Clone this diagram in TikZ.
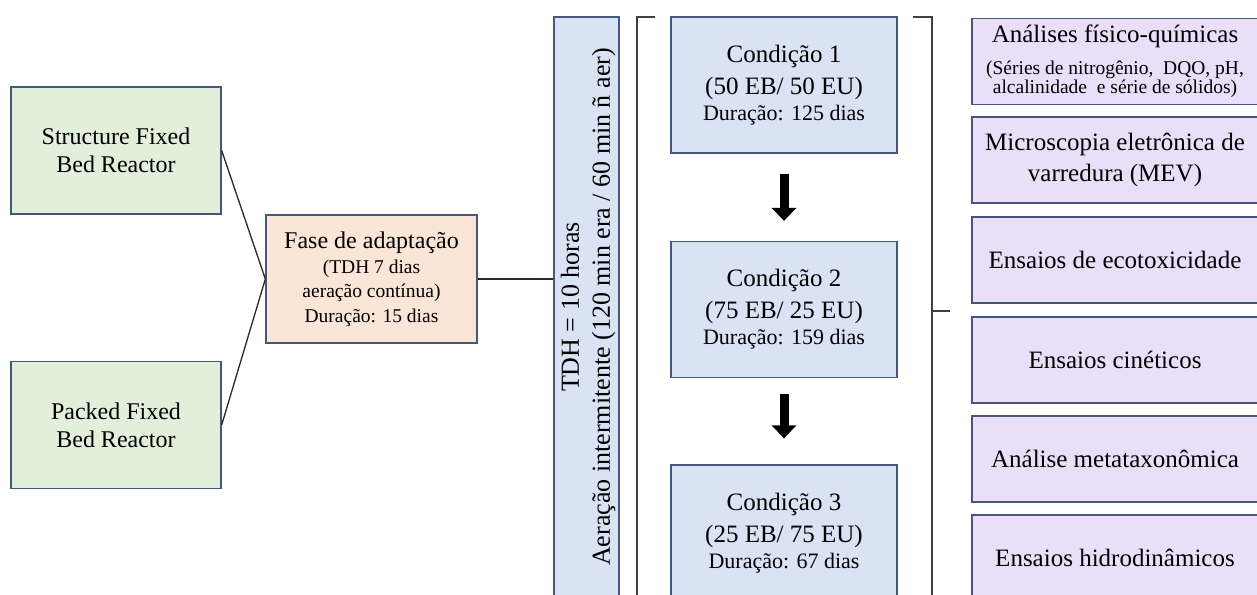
\documentclass[tikz,border=0pt]{standalone}
\usepackage{fontspec}
\setmainfont{Liberation Serif}
\usetikzlibrary{arrows.meta}
\definecolor{bordc}{RGB}{70,86,124}
\definecolor{greenf}{RGB}{226,239,218}
\definecolor{peachf}{RGB}{251,229,214}
\definecolor{bluef}{RGB}{218,227,243}
\definecolor{purplef}{RGB}{234,222,249}
\definecolor{linec}{RGB}{40,40,40}
\definecolor{brackc}{RGB}{64,64,64}
\newcommand{\fsz}[2]{\fontsize{#1}{#2}\selectfont}
\tikzset{
  box/.style={draw=bordc, line width=1.3pt, rectangle, inner sep=0pt, align=center, text=black},
  greenbox/.style={box, fill=greenf, minimum width=210pt, minimum height=127pt, font=\fsz{24}{28}},
  peachbox/.style={box, fill=peachf, minimum width=211pt, minimum height=128pt, font=\fsz{19.5}{24.5}},
  tdhbox/.style={box, fill=bluef, minimum width=65pt, minimum height=640pt},
  condbox/.style={box, fill=bluef, minimum width=226pt, minimum height=136pt, font=\fsz{25}{32}},
  purplebox/.style={box, fill=purplef, minimum width=286pt, minimum height=86pt, font=\fsz{25}{31}},
  conn/.style={draw=linec, line width=1.3pt},
  brack/.style={draw=brackc, line width=1.8pt},
  bigarrow/.style={draw=black, line width=9pt, -{Triangle[width=24pt,length=13pt]}}
}
\begin{document}
\begin{tikzpicture}[x=1pt,y=-1pt]
\path[use as bounding box] (0,0) rectangle (1257,594);
\clip (0,0) rectangle (1257,594);
% left column
\node[greenbox] (s) at (116,150.5) {Structure Fixed\\Bed Reactor};
\node[greenbox] (p) at (116,425) {Packed Fixed\\Bed Reactor};
\node[peachbox] (f) at (371.5,279) {{\fsz{24}{25}Fase de adaptação}\\(TDH 7 dias\\aeração contínua)\\Duração: 15 dias};
% TDH box
\node[tdhbox] (t) at (586.5,337) {};
\node[rotate=90, align=center, font=\fsz{26}{31}] (tt) at (588,307) {TDH = 10 horas\\Aeração intermitente (120 min era / 60 min ñ aer)};
% conditions
\node[condbox] (c1) at (784,85) {Condição 1\\(50 EB/ 50 EU)\\[-6pt]{\fsz{22}{26}Duração: 125 dias}};
\node[condbox] (c2) at (784,309.5) {Condição 2\\(75 EB/ 25 EU)\\[-6pt]{\fsz{22}{26}Duração: 159 dias}};
\node[condbox] (c3) at (784,533) {Condição 3\\(25 EB/ 75 EU)\\[-6pt]{\fsz{22}{26}Duração: 67 dias}};
\draw[bigarrow] ([yshift=-20pt]c1.south) -- ([yshift=20pt]c2.north);
\draw[bigarrow] ([yshift=-16pt]c2.south) -- ([yshift=26pt]c3.north);
% analyses
\node[purplebox] (a1) at (1115,61.5) {Análises físico-químicas\\[1pt]{\fsz{19.5}{19.5}(Séries de nitrogênio, \ DQO, pH,}\\[-12pt]{\fsz{19.5}{19.5}alcalinidade \ e série de sólidos)}};
\node[purplebox] (a2) at (1115,160) {Microscopia eletrônica de\\varredura (MEV)};
\node[purplebox] (a3) at (1115,260) {Ensaios de ecotoxicidade};
\node[purplebox] (a4) at (1115,360) {Ensaios cinéticos};
\node[purplebox] (a5) at (1115,459) {Análise metataxonômica};
\node[purplebox] (a6) at (1115,558) {Ensaios hidrodinâmicos};
% connectors
\draw[conn] (s.east) -- (f.west);
\draw[conn] (p.east) -- (f.west);
\draw[conn] (f.east) -- (f.east -| t.west);
% brackets
\coordinate (bl1) at (655,17);
\coordinate (bl2) at (637,17);
\coordinate (bl3) at (637,620);
\coordinate (br1) at (913,17);
\coordinate (br2) at (932,17);
\coordinate (br3) at (932,620);
\coordinate (bm) at (932,311);
\coordinate (be) at (950,311);
\draw[brack] (bl1) -- (bl2) -- (bl3);
\draw[brack] (br1) -- (br2) -- (br3);
\draw[brack] (bm) -- (be);
\end{tikzpicture}
\end{document}
